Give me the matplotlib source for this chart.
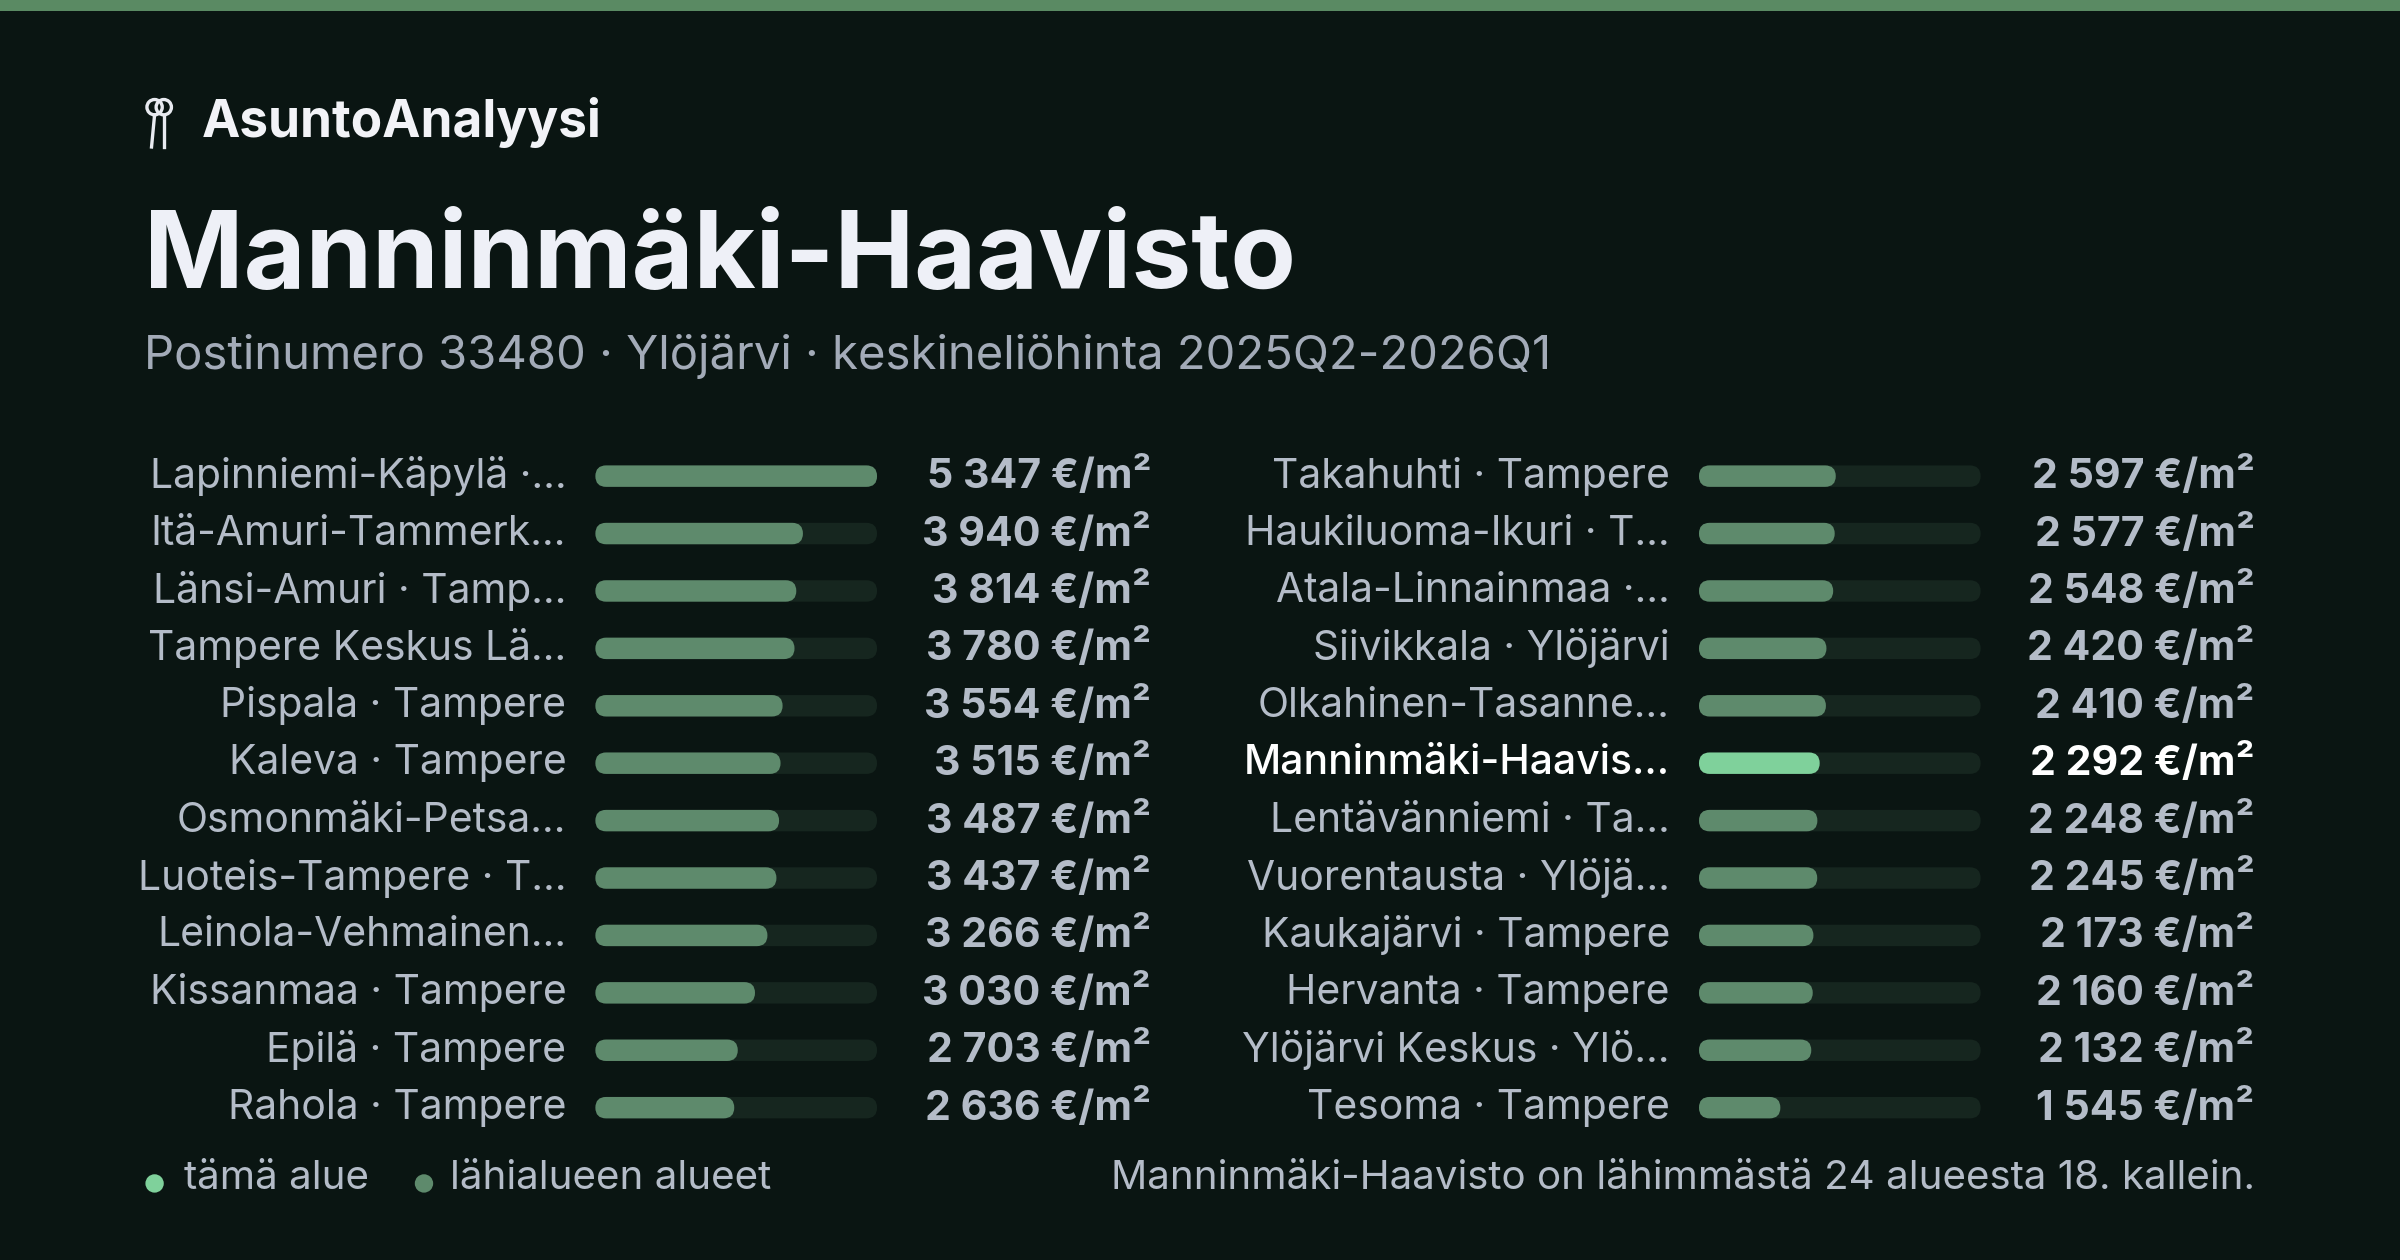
import matplotlib
matplotlib.use("Agg")
import matplotlib.pyplot as plt
from matplotlib.patches import FancyBboxPatch, Circle

plt.rcParams["font.family"] = ["Inter", "DejaVu Sans"]

BG = "#0a1512"
C_BAR = "#5e8a6c"
C_TRACK = "#16261f"
C_HI = "#7fd19b"
C_TXT = "#b4bcc8"
C_SUB = "#a3abb8"

left_labels = ["Lapinniemi-Käpylä ·...", "Itä-Amuri-Tammerk...", "Länsi-Amuri · Tamp...",
               "Tampere Keskus Lä...", "Pispala · Tampere", "Kaleva · Tampere",
               "Osmonmäki-Petsa...", "Luoteis-Tampere · T...", "Leinola-Vehmainen...",
               "Kissanmaa · Tampere", "Epilä · Tampere", "Rahola · Tampere"]
left_values = [5347, 3940, 3814, 3780, 3554, 3515, 3487, 3437, 3266, 3030, 2703, 2636]
right_labels = ["Takahuhti · Tampere", "Haukiluoma-Ikuri · T...", "Atala-Linnainmaa ·...",
                "Siivikkala · Ylöjärvi", "Olkahinen-Tasanne...", "Manninmäki-Haavis...",
                "Lentävänniemi · Ta...", "Vuorentausta · Ylöjä...", "Kaukajärvi · Tampere",
                "Hervanta · Tampere", "Ylöjärvi Keskus · Ylö...", "Tesoma · Tampere"]
right_values = [2597, 2577, 2548, 2420, 2410, 2292, 2248, 2245, 2173, 2160, 2132, 1545]
highlight = "Manninmäki-Haavis..."

W, H = 1568, 823
fig = plt.figure(figsize=(12, 6.3), dpi=200, facecolor=BG)
ax = fig.add_axes([0, 0, 1, 1])
ax.set_xlim(0, W); ax.set_ylim(H, 0); ax.axis("off")
ax.set_facecolor(BG)

# top accent strip
ax.add_patch(plt.Rectangle((0, 0), W, 7, color="#5a8a63", lw=0))

# key icon
for dx in (0, 6):
    ax.add_patch(Circle((101 + dx, 70), 5, fill=False, ec="#e8eaf0", lw=1.2))
    ax.plot([101 + dx, 99 + dx + 2 * dx / 6], [75, 96], color="#e8eaf0", lw=1.2)
ax.text(132, 80, "AsuntoAnalyysi", color="#f2f3f7", fontsize=18.5, fontweight="bold", va="center")
ax.text(94, 170, "Manninmäki-Haavisto", color="#eef0f7", fontsize=38.5, fontweight="bold", va="center")
ax.text(94, 233, "Postinumero 33480 · Ylöjärvi · keskineliöhinta 2025Q2-2026Q1",
        color=C_SUB, fontsize=17, va="center")

vmax = max(left_values + right_values)


def fmt(v):
    return f"{v:,}".replace(",", " ") + " €/m²"


def column(labels, values, x_lab, x_bar, x_val):
    bw = 184
    for i, (lab, v) in enumerate(zip(labels, values)):
        y = 311 + i * 37.5
        hi = lab == highlight
        col = "#ffffff" if hi else C_TXT
        ax.text(x_lab, y, lab, ha="right", va="center", fontsize=14.7, color=col,
                fontweight="medium" if hi else "normal")
        ax.add_patch(FancyBboxPatch((x_bar, y - 7), bw, 14,
                                    boxstyle="round,pad=0,rounding_size=7", fc=C_TRACK, ec="none"))
        ax.add_patch(FancyBboxPatch((x_bar, y - 7), bw * v / vmax, 14,
                                    boxstyle="round,pad=0,rounding_size=7",
                                    fc=C_HI if hi else C_BAR, ec="none"))
        ax.text(x_val, y, fmt(v), ha="right", va="center", fontsize=14.8,
                fontweight="bold", color=col)


column(left_labels, left_values, 370, 389, 752)
column(right_labels, right_values, 1091, 1110, 1473)

# footer legend
ax.add_patch(Circle((101, 773), 6, color=C_HI, lw=0))
ax.text(120, 770, "tämä alue", color=C_TXT, fontsize=14.5, va="center")
ax.add_patch(Circle((277, 773), 6, color=C_BAR, lw=0))
ax.text(294, 770, "lähialueen alueet", color=C_TXT, fontsize=14.5, va="center")
ax.text(1473, 770, "Manninmäki-Haavisto on lähimmästä 24 alueesta 18. kallein.",
        color=C_TXT, fontsize=14.5, va="center", ha="right")

fig.savefig("out.png", dpi=200, facecolor=BG)
